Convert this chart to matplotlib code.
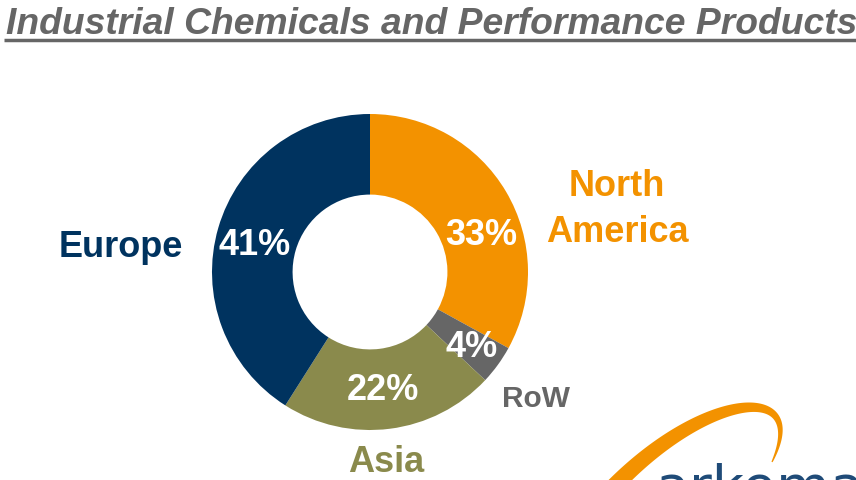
import numpy as np
import matplotlib
matplotlib.use("Agg")
import matplotlib.pyplot as plt
from matplotlib.patches import Polygon

# Regional split of sales
regions = ["North America", "RoW", "Asia", "Europe"]
shares = [33, 4, 22, 41]
colors = ["#f39200", "#666666", "#8a8a4c", "#00335f"]
pct_labels = ["33%", "4%", "22%", "41%"]

W, H = 856, 480
fig = plt.figure(figsize=(W / 100, H / 100), dpi=100)
FONT = "Liberation Sans"

# Title with underline
title = "Industrial Chemicals and Performance Products"
fig.text(6 / W, 1 - 34.5 / H, title, fontsize=26.8, fontweight="bold", fontstyle="italic",
         color="#666666", family=FONT, ha="left", va="baseline")
fig.add_artist(plt.Line2D([4 / W, 1.0], [1 - 40 / H, 1 - 40 / H],
                          color="#666666", lw=2.5, solid_capstyle="butt",
                          transform=fig.transFigure))

# Donut axes: centre (370, 272) px, radius 158 px
cx, cy, r = 370, 272, 158
ax = fig.add_axes([(cx - r) / W, (H - cy - r) / H, 2 * r / W, 2 * r / H])
wedges, _ = ax.pie(shares, colors=colors, startangle=90, counterclock=False, radius=1,
                   wedgeprops=dict(width=0.51, linewidth=0))
ax.set_xlim(-1, 1)
ax.set_ylim(-1, 1)
ax.set_aspect("equal")
ax.axis("off")
for w in wedges:
    w.set_clip_on(False)

# Percent labels inside the ring
pct_pos = [(0.703, 0.234), (0.646, -0.481), (0.082, -0.747), (-0.728, 0.165)]
for (x, y), t in zip(pct_pos, pct_labels):
    ax.text(x, y, t, ha="center", va="center", fontsize=26, fontweight="bold",
            color="white", family=FONT, clip_on=False)

# Region names outside the ring (baseline of the last line)
name_pos = [(1.563, 0.190), (1.051, -0.854), (0.101, -1.266), (-1.579, 0.095)]
name_text = ["North\nAmerica", "RoW", "Asia", "Europe"]
name_size = [26, 21.5, 26, 26]
for (x, y), t, c, s in zip(name_pos, name_text, colors, name_size):
    ax.text(x, y, t, ha="center", va="baseline", fontsize=s, fontweight="bold",
            color=c, family=FONT, linespacing=1.42, clip_on=False)

# Logo: orange swoosh and wordmark in the lower right corner
t = np.linspace(0, 1, 140)
p0, p1, p2, p3 = np.array([606, 495]), np.array([700, 392]), np.array([812, 378]), np.array([772, 462])
curve = ((1 - t) ** 3)[:, None] * p0 + (3 * (1 - t) ** 2 * t)[:, None] * p1 \
    + (3 * (1 - t) * t ** 2)[:, None] * p2 + (t ** 3)[:, None] * p3
d = np.gradient(curve, axis=0)
n = np.stack([-d[:, 1], d[:, 0]], axis=1)
n /= np.linalg.norm(n, axis=1)[:, None]
half = 8.0 * (1 - t) ** 0.8 + 0.6
upper = curve + n * half[:, None]
lower = curve - n * half[:, None]
pts = np.vstack([upper, lower[::-1]])
pts_fig = np.column_stack([pts[:, 0] / W, 1 - pts[:, 1] / H])
fig.add_artist(Polygon(pts_fig, closed=True, facecolor="#f39200", edgecolor="none",
                       transform=fig.transFigure))
fig.text(656 / W, 1 - 505 / H, "arkema", fontsize=40, color="#1f4b78", family="DejaVu Sans",
         ha="left", va="baseline")

fig.savefig("out.png", dpi=100, facecolor="white")
